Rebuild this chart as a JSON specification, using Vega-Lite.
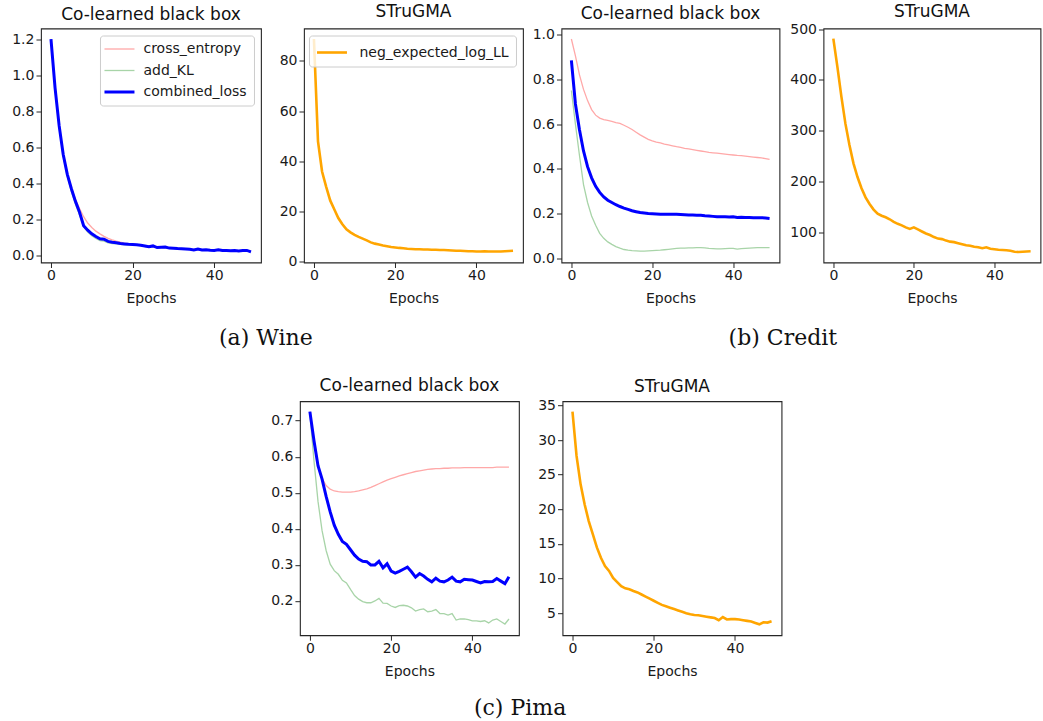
{
"$schema": "https://vega.github.io/schema/vega-lite/v6.json",
"padding": {"left": 10.5, "top": 1.5, "right": 0, "bottom": 0},
"background": "white",
"config": {
  "font": "DejaVu Sans",
  "view": {"stroke": "#262626", "strokeWidth": 1.1},
  "axis": {"domain": false, "grid": false, "tickColor": "#262626", "tickSize": 5, "tickWidth": 1, "labelFont": "DejaVu Sans", "labelFontSize": 14, "labelColor": "#1a1a1a", "titleFont": "DejaVu Sans", "titleFontSize": 14, "titleFontWeight": "normal", "titleColor": "#1a1a1a"},
  "axisX": {"labelPadding": 1, "titlePadding": 9.3},
  "axisY": {"labelPadding": 2},
  "title": {"font": "DejaVu Sans", "fontSize": 17, "fontWeight": "normal", "color": "#111111", "offset": 4.5},
  "legend": {"title": null, "orient": "top-right", "offset": 7, "symbolType": "M-1,0H2.333", "symbolSize": 324, "labelFont": "DejaVu Sans", "labelFontSize": 14, "labelColor": "#1a1a1a", "labelOffset": 23, "strokeColor": "#cccccc", "fillColor": "rgba(255,255,255,0.8)", "cornerRadius": 3, "padding": 6.5, "rowPadding": 7.5}
},
"datasets": {
"wine": [
{"epoch":0,"cross_entropy":1.2,"add_KL":1.2,"combined_loss":1.2,"neg_expected_log_LL":88.7},
{"epoch":1,"cross_entropy":0.93,"add_KL":0.92,"combined_loss":0.93,"neg_expected_log_LL":48},
{"epoch":2,"cross_entropy":0.72,"add_KL":0.71,"combined_loss":0.72,"neg_expected_log_LL":36},
{"epoch":3,"cross_entropy":0.565,"add_KL":0.55,"combined_loss":0.56,"neg_expected_log_LL":30},
{"epoch":4,"cross_entropy":0.455,"add_KL":0.44,"combined_loss":0.45,"neg_expected_log_LL":24.5},
{"epoch":5,"cross_entropy":0.375,"add_KL":0.355,"combined_loss":0.37,"neg_expected_log_LL":21},
{"epoch":6,"cross_entropy":0.31,"add_KL":0.285,"combined_loss":0.3,"neg_expected_log_LL":17.5},
{"epoch":7,"cross_entropy":0.26,"add_KL":0.225,"combined_loss":0.24,"neg_expected_log_LL":15},
{"epoch":8,"cross_entropy":0.215,"add_KL":0.16,"combined_loss":0.165,"neg_expected_log_LL":13},
{"epoch":9,"cross_entropy":0.18,"add_KL":0.13,"combined_loss":0.14,"neg_expected_log_LL":11.8},
{"epoch":10,"cross_entropy":0.155,"add_KL":0.11,"combined_loss":0.12,"neg_expected_log_LL":10.8},
{"epoch":11,"cross_entropy":0.135,"add_KL":0.094,"combined_loss":0.105,"neg_expected_log_LL":10},
{"epoch":12,"cross_entropy":0.12,"add_KL":0.083,"combined_loss":0.093,"neg_expected_log_LL":9.3},
{"epoch":13,"cross_entropy":0.106,"add_KL":0.08,"combined_loss":0.09,"neg_expected_log_LL":8.6},
{"epoch":14,"cross_entropy":0.095,"add_KL":0.07,"combined_loss":0.078,"neg_expected_log_LL":7.8},
{"epoch":15,"cross_entropy":0.087,"add_KL":0.066,"combined_loss":0.073,"neg_expected_log_LL":7.3},
{"epoch":16,"cross_entropy":0.08,"add_KL":0.064,"combined_loss":0.07,"neg_expected_log_LL":7},
{"epoch":17,"cross_entropy":0.074,"add_KL":0.062,"combined_loss":0.066,"neg_expected_log_LL":6.6},
{"epoch":18,"cross_entropy":0.069,"add_KL":0.06,"combined_loss":0.064,"neg_expected_log_LL":6.3},
{"epoch":19,"cross_entropy":0.065,"add_KL":0.059,"combined_loss":0.062,"neg_expected_log_LL":6},
{"epoch":20,"cross_entropy":0.062,"add_KL":0.058,"combined_loss":0.061,"neg_expected_log_LL":5.8},
{"epoch":21,"cross_entropy":0.06,"add_KL":0.057,"combined_loss":0.06,"neg_expected_log_LL":5.6},
{"epoch":22,"cross_entropy":0.057,"add_KL":0.055,"combined_loss":0.057,"neg_expected_log_LL":5.5},
{"epoch":23,"cross_entropy":0.054,"add_KL":0.051,"combined_loss":0.053,"neg_expected_log_LL":5.3},
{"epoch":24,"cross_entropy":0.05,"add_KL":0.047,"combined_loss":0.048,"neg_expected_log_LL":5.2},
{"epoch":25,"cross_entropy":0.05,"add_KL":0.05,"combined_loss":0.053,"neg_expected_log_LL":5.1},
{"epoch":26,"cross_entropy":0.046,"add_KL":0.043,"combined_loss":0.044,"neg_expected_log_LL":5.1},
{"epoch":27,"cross_entropy":0.045,"add_KL":0.044,"combined_loss":0.046,"neg_expected_log_LL":5},
{"epoch":28,"cross_entropy":0.044,"add_KL":0.045,"combined_loss":0.047,"neg_expected_log_LL":4.95},
{"epoch":29,"cross_entropy":0.042,"add_KL":0.04,"combined_loss":0.041,"neg_expected_log_LL":4.9},
{"epoch":30,"cross_entropy":0.04,"add_KL":0.039,"combined_loss":0.04,"neg_expected_log_LL":4.9},
{"epoch":31,"cross_entropy":0.039,"add_KL":0.037,"combined_loss":0.038,"neg_expected_log_LL":4.8},
{"epoch":32,"cross_entropy":0.038,"add_KL":0.036,"combined_loss":0.037,"neg_expected_log_LL":4.75},
{"epoch":33,"cross_entropy":0.037,"add_KL":0.035,"combined_loss":0.036,"neg_expected_log_LL":4.7},
{"epoch":34,"cross_entropy":0.035,"add_KL":0.033,"combined_loss":0.034,"neg_expected_log_LL":4.6},
{"epoch":35,"cross_entropy":0.034,"add_KL":0.031,"combined_loss":0.031,"neg_expected_log_LL":4.5},
{"epoch":36,"cross_entropy":0.033,"add_KL":0.034,"combined_loss":0.036,"neg_expected_log_LL":4.5},
{"epoch":37,"cross_entropy":0.032,"add_KL":0.03,"combined_loss":0.03,"neg_expected_log_LL":4.4},
{"epoch":38,"cross_entropy":0.031,"add_KL":0.031,"combined_loss":0.032,"neg_expected_log_LL":4.3},
{"epoch":39,"cross_entropy":0.03,"add_KL":0.029,"combined_loss":0.029,"neg_expected_log_LL":4.25},
{"epoch":40,"cross_entropy":0.029,"add_KL":0.028,"combined_loss":0.028,"neg_expected_log_LL":4.2},
{"epoch":41,"cross_entropy":0.029,"add_KL":0.03,"combined_loss":0.031,"neg_expected_log_LL":4.2},
{"epoch":42,"cross_entropy":0.028,"add_KL":0.027,"combined_loss":0.027,"neg_expected_log_LL":4.25},
{"epoch":43,"cross_entropy":0.027,"add_KL":0.027,"combined_loss":0.028,"neg_expected_log_LL":4.2},
{"epoch":44,"cross_entropy":0.027,"add_KL":0.026,"combined_loss":0.026,"neg_expected_log_LL":4.2},
{"epoch":45,"cross_entropy":0.026,"add_KL":0.026,"combined_loss":0.027,"neg_expected_log_LL":4.2},
{"epoch":46,"cross_entropy":0.026,"add_KL":0.025,"combined_loss":0.025,"neg_expected_log_LL":4.2},
{"epoch":47,"cross_entropy":0.025,"add_KL":0.026,"combined_loss":0.027,"neg_expected_log_LL":4.3},
{"epoch":48,"cross_entropy":0.025,"add_KL":0.026,"combined_loss":0.028,"neg_expected_log_LL":4.4},
{"epoch":49,"cross_entropy":0.024,"add_KL":0.021,"combined_loss":0.02,"neg_expected_log_LL":4.5}
],
"credit": [
{"epoch":0,"cross_entropy":0.98,"add_KL":0.75,"combined_loss":0.885,"neg_expected_log_LL":481},
{"epoch":1,"cross_entropy":0.905,"add_KL":0.6,"combined_loss":0.69,"neg_expected_log_LL":426},
{"epoch":2,"cross_entropy":0.82,"add_KL":0.46,"combined_loss":0.575,"neg_expected_log_LL":367},
{"epoch":3,"cross_entropy":0.755,"add_KL":0.33,"combined_loss":0.48,"neg_expected_log_LL":314},
{"epoch":4,"cross_entropy":0.705,"add_KL":0.25,"combined_loss":0.41,"neg_expected_log_LL":272},
{"epoch":5,"cross_entropy":0.665,"add_KL":0.19,"combined_loss":0.36,"neg_expected_log_LL":236},
{"epoch":6,"cross_entropy":0.64,"add_KL":0.148,"combined_loss":0.322,"neg_expected_log_LL":209},
{"epoch":7,"cross_entropy":0.627,"add_KL":0.112,"combined_loss":0.295,"neg_expected_log_LL":187},
{"epoch":8,"cross_entropy":0.62,"add_KL":0.09,"combined_loss":0.275,"neg_expected_log_LL":169},
{"epoch":9,"cross_entropy":0.617,"add_KL":0.074,"combined_loss":0.26,"neg_expected_log_LL":156},
{"epoch":10,"cross_entropy":0.612,"add_KL":0.063,"combined_loss":0.25,"neg_expected_log_LL":145},
{"epoch":11,"cross_entropy":0.607,"add_KL":0.053,"combined_loss":0.24,"neg_expected_log_LL":137},
{"epoch":12,"cross_entropy":0.603,"add_KL":0.046,"combined_loss":0.232,"neg_expected_log_LL":133},
{"epoch":13,"cross_entropy":0.595,"add_KL":0.04,"combined_loss":0.225,"neg_expected_log_LL":130},
{"epoch":14,"cross_entropy":0.586,"add_KL":0.037,"combined_loss":0.219,"neg_expected_log_LL":126},
{"epoch":15,"cross_entropy":0.576,"add_KL":0.035,"combined_loss":0.213,"neg_expected_log_LL":121},
{"epoch":16,"cross_entropy":0.564,"add_KL":0.034,"combined_loss":0.209,"neg_expected_log_LL":117},
{"epoch":17,"cross_entropy":0.552,"add_KL":0.033,"combined_loss":0.205,"neg_expected_log_LL":114},
{"epoch":18,"cross_entropy":0.542,"add_KL":0.033,"combined_loss":0.203,"neg_expected_log_LL":110},
{"epoch":19,"cross_entropy":0.532,"add_KL":0.034,"combined_loss":0.201,"neg_expected_log_LL":107},
{"epoch":20,"cross_entropy":0.525,"add_KL":0.035,"combined_loss":0.2,"neg_expected_log_LL":110},
{"epoch":21,"cross_entropy":0.52,"add_KL":0.036,"combined_loss":0.199,"neg_expected_log_LL":106},
{"epoch":22,"cross_entropy":0.516,"add_KL":0.037,"combined_loss":0.198,"neg_expected_log_LL":102},
{"epoch":23,"cross_entropy":0.511,"add_KL":0.039,"combined_loss":0.197,"neg_expected_log_LL":98},
{"epoch":24,"cross_entropy":0.507,"add_KL":0.041,"combined_loss":0.198,"neg_expected_log_LL":95},
{"epoch":25,"cross_entropy":0.503,"add_KL":0.043,"combined_loss":0.197,"neg_expected_log_LL":91},
{"epoch":26,"cross_entropy":0.499,"add_KL":0.045,"combined_loss":0.197,"neg_expected_log_LL":88},
{"epoch":27,"cross_entropy":0.496,"add_KL":0.046,"combined_loss":0.196,"neg_expected_log_LL":87},
{"epoch":28,"cross_entropy":0.492,"add_KL":0.046,"combined_loss":0.195,"neg_expected_log_LL":84},
{"epoch":29,"cross_entropy":0.489,"add_KL":0.047,"combined_loss":0.194,"neg_expected_log_LL":82},
{"epoch":30,"cross_entropy":0.486,"add_KL":0.047,"combined_loss":0.194,"neg_expected_log_LL":81},
{"epoch":31,"cross_entropy":0.483,"add_KL":0.048,"combined_loss":0.193,"neg_expected_log_LL":79},
{"epoch":32,"cross_entropy":0.48,"add_KL":0.048,"combined_loss":0.193,"neg_expected_log_LL":77},
{"epoch":33,"cross_entropy":0.477,"add_KL":0.047,"combined_loss":0.191,"neg_expected_log_LL":75},
{"epoch":34,"cross_entropy":0.474,"add_KL":0.045,"combined_loss":0.19,"neg_expected_log_LL":74},
{"epoch":35,"cross_entropy":0.472,"add_KL":0.044,"combined_loss":0.188,"neg_expected_log_LL":72},
{"epoch":36,"cross_entropy":0.47,"add_KL":0.043,"combined_loss":0.186,"neg_expected_log_LL":71},
{"epoch":37,"cross_entropy":0.468,"add_KL":0.043,"combined_loss":0.186,"neg_expected_log_LL":69},
{"epoch":38,"cross_entropy":0.466,"add_KL":0.044,"combined_loss":0.186,"neg_expected_log_LL":71},
{"epoch":39,"cross_entropy":0.464,"add_KL":0.045,"combined_loss":0.185,"neg_expected_log_LL":68},
{"epoch":40,"cross_entropy":0.462,"add_KL":0.045,"combined_loss":0.186,"neg_expected_log_LL":67},
{"epoch":41,"cross_entropy":0.46,"add_KL":0.042,"combined_loss":0.183,"neg_expected_log_LL":66},
{"epoch":42,"cross_entropy":0.459,"add_KL":0.044,"combined_loss":0.184,"neg_expected_log_LL":65.5},
{"epoch":43,"cross_entropy":0.457,"add_KL":0.045,"combined_loss":0.183,"neg_expected_log_LL":65},
{"epoch":44,"cross_entropy":0.455,"add_KL":0.046,"combined_loss":0.183,"neg_expected_log_LL":64},
{"epoch":45,"cross_entropy":0.453,"add_KL":0.047,"combined_loss":0.182,"neg_expected_log_LL":62},
{"epoch":46,"cross_entropy":0.451,"add_KL":0.048,"combined_loss":0.182,"neg_expected_log_LL":61.5},
{"epoch":47,"cross_entropy":0.449,"add_KL":0.048,"combined_loss":0.182,"neg_expected_log_LL":62},
{"epoch":48,"cross_entropy":0.446,"add_KL":0.048,"combined_loss":0.181,"neg_expected_log_LL":62.5},
{"epoch":49,"cross_entropy":0.443,"add_KL":0.048,"combined_loss":0.179,"neg_expected_log_LL":63}
],
"pima": [
{"epoch":0,"cross_entropy":0.725,"add_KL":0.72,"combined_loss":0.725,"neg_expected_log_LL":34.1},
{"epoch":1,"cross_entropy":0.645,"add_KL":0.59,"combined_loss":0.645,"neg_expected_log_LL":27.7},
{"epoch":2,"cross_entropy":0.578,"add_KL":0.476,"combined_loss":0.575,"neg_expected_log_LL":23.6},
{"epoch":3,"cross_entropy":0.54,"add_KL":0.395,"combined_loss":0.538,"neg_expected_log_LL":20.7},
{"epoch":4,"cross_entropy":0.52,"add_KL":0.34,"combined_loss":0.49,"neg_expected_log_LL":18.3},
{"epoch":5,"cross_entropy":0.51,"add_KL":0.302,"combined_loss":0.447,"neg_expected_log_LL":16.4},
{"epoch":6,"cross_entropy":0.505,"add_KL":0.284,"combined_loss":0.41,"neg_expected_log_LL":14.5},
{"epoch":7,"cross_entropy":0.503,"add_KL":0.274,"combined_loss":0.385,"neg_expected_log_LL":13},
{"epoch":8,"cross_entropy":0.502,"add_KL":0.257,"combined_loss":0.365,"neg_expected_log_LL":11.8},
{"epoch":9,"cross_entropy":0.502,"add_KL":0.25,"combined_loss":0.357,"neg_expected_log_LL":11.1},
{"epoch":10,"cross_entropy":0.502,"add_KL":0.232,"combined_loss":0.342,"neg_expected_log_LL":10.1},
{"epoch":11,"cross_entropy":0.503,"add_KL":0.215,"combined_loss":0.327,"neg_expected_log_LL":9.5},
{"epoch":12,"cross_entropy":0.505,"add_KL":0.205,"combined_loss":0.316,"neg_expected_log_LL":8.9},
{"epoch":13,"cross_entropy":0.508,"add_KL":0.198,"combined_loss":0.31,"neg_expected_log_LL":8.6},
{"epoch":14,"cross_entropy":0.511,"add_KL":0.195,"combined_loss":0.309,"neg_expected_log_LL":8.45},
{"epoch":15,"cross_entropy":0.515,"add_KL":0.195,"combined_loss":0.3,"neg_expected_log_LL":8.2},
{"epoch":16,"cross_entropy":0.52,"add_KL":0.2,"combined_loss":0.3,"neg_expected_log_LL":8},
{"epoch":17,"cross_entropy":0.525,"add_KL":0.207,"combined_loss":0.31,"neg_expected_log_LL":7.7},
{"epoch":18,"cross_entropy":0.53,"add_KL":0.194,"combined_loss":0.292,"neg_expected_log_LL":7.4},
{"epoch":19,"cross_entropy":0.535,"add_KL":0.193,"combined_loss":0.303,"neg_expected_log_LL":7.1},
{"epoch":20,"cross_entropy":0.539,"add_KL":0.186,"combined_loss":0.283,"neg_expected_log_LL":6.8},
{"epoch":21,"cross_entropy":0.543,"add_KL":0.182,"combined_loss":0.277,"neg_expected_log_LL":6.5},
{"epoch":22,"cross_entropy":0.547,"add_KL":0.187,"combined_loss":0.282,"neg_expected_log_LL":6.2},
{"epoch":23,"cross_entropy":0.55,"add_KL":0.188,"combined_loss":0.288,"neg_expected_log_LL":6},
{"epoch":24,"cross_entropy":0.553,"add_KL":0.186,"combined_loss":0.294,"neg_expected_log_LL":5.8},
{"epoch":25,"cross_entropy":0.556,"add_KL":0.181,"combined_loss":0.281,"neg_expected_log_LL":5.6},
{"epoch":26,"cross_entropy":0.559,"add_KL":0.172,"combined_loss":0.266,"neg_expected_log_LL":5.4},
{"epoch":27,"cross_entropy":0.561,"add_KL":0.176,"combined_loss":0.276,"neg_expected_log_LL":5.2},
{"epoch":28,"cross_entropy":0.563,"add_KL":0.178,"combined_loss":0.269,"neg_expected_log_LL":5},
{"epoch":29,"cross_entropy":0.565,"add_KL":0.17,"combined_loss":0.26,"neg_expected_log_LL":4.85},
{"epoch":30,"cross_entropy":0.566,"add_KL":0.172,"combined_loss":0.253,"neg_expected_log_LL":4.75},
{"epoch":31,"cross_entropy":0.567,"add_KL":0.176,"combined_loss":0.263,"neg_expected_log_LL":4.7},
{"epoch":32,"cross_entropy":0.567,"add_KL":0.165,"combined_loss":0.255,"neg_expected_log_LL":4.6},
{"epoch":33,"cross_entropy":0.568,"add_KL":0.165,"combined_loss":0.253,"neg_expected_log_LL":4.5},
{"epoch":34,"cross_entropy":0.568,"add_KL":0.161,"combined_loss":0.258,"neg_expected_log_LL":4.4},
{"epoch":35,"cross_entropy":0.569,"add_KL":0.165,"combined_loss":0.266,"neg_expected_log_LL":4.3},
{"epoch":36,"cross_entropy":0.569,"add_KL":0.147,"combined_loss":0.255,"neg_expected_log_LL":4},
{"epoch":37,"cross_entropy":0.569,"add_KL":0.15,"combined_loss":0.253,"neg_expected_log_LL":4.45},
{"epoch":38,"cross_entropy":0.57,"add_KL":0.15,"combined_loss":0.26,"neg_expected_log_LL":4.1},
{"epoch":39,"cross_entropy":0.57,"add_KL":0.148,"combined_loss":0.259,"neg_expected_log_LL":4.15},
{"epoch":40,"cross_entropy":0.57,"add_KL":0.145,"combined_loss":0.258,"neg_expected_log_LL":4.15},
{"epoch":41,"cross_entropy":0.57,"add_KL":0.145,"combined_loss":0.254,"neg_expected_log_LL":4.1},
{"epoch":42,"cross_entropy":0.57,"add_KL":0.143,"combined_loss":0.25,"neg_expected_log_LL":4},
{"epoch":43,"cross_entropy":0.57,"add_KL":0.145,"combined_loss":0.254,"neg_expected_log_LL":3.9},
{"epoch":44,"cross_entropy":0.57,"add_KL":0.139,"combined_loss":0.253,"neg_expected_log_LL":3.8},
{"epoch":45,"cross_entropy":0.57,"add_KL":0.147,"combined_loss":0.254,"neg_expected_log_LL":3.6},
{"epoch":46,"cross_entropy":0.571,"add_KL":0.15,"combined_loss":0.262,"neg_expected_log_LL":3.4},
{"epoch":47,"cross_entropy":0.571,"add_KL":0.143,"combined_loss":0.255,"neg_expected_log_LL":3.7},
{"epoch":48,"cross_entropy":0.571,"add_KL":0.136,"combined_loss":0.248,"neg_expected_log_LL":3.65},
{"epoch":49,"cross_entropy":0.571,"add_KL":0.15,"combined_loss":0.267,"neg_expected_log_LL":3.85}
]
},
"vconcat": [
{
 "hconcat": [
  {
   "title": {"text": "(a) Wine", "orient": "bottom", "anchor": "middle", "font": "DejaVu Serif", "fontSize": 22, "fontWeight": "normal", "color": "#111111", "offset": 21.5, "dx": -1.5},
   "spacing": 16,
   "resolve": {"scale": {"color": "independent"}},
   "hconcat": [
    {
     "width": 220, "height": 234,
     "title": {"text": "Co-learned black box", "offset": 4.5},
     "data": {"name": "wine"},
     "transform": [{"fold": ["cross_entropy", "add_KL", "combined_loss"], "as": ["series", "value"]}],
     "encoding": {
      "x": {"field": "epoch", "type": "quantitative", "scale": {"domain": [-2.45, 51.45], "nice": false, "zero": false}, "axis": {"values": [0, 20, 40], "title": "Epochs", "format": "d"}},
      "y": {"field": "value", "type": "quantitative", "scale": {"domain": [-0.039, 1.259], "nice": false, "zero": false}, "axis": {"values": [0, 0.2, 0.4, 0.6, 0.8, 1.0, 1.2], "format": ".1f", "title": null}},
      "color": {"field": "series", "type": "nominal", "scale": {"domain": ["cross_entropy", "add_KL", "combined_loss"], "range": ["#ffa8a8", "#a8d4a8", "#0000ff"]}, "legend": {"orient": "top-right", "title": null, "encode": {"symbols": {"update": {"strokeWidth": {"signal": "datum.value === 'combined_loss' ? 3 : 1.3"}}}}}}
     },
     "layer": [
      {"transform": [{"filter": "datum.series !== 'combined_loss'"}], "mark": {"type": "line", "strokeWidth": 1.3}},
      {"transform": [{"filter": "datum.series === 'combined_loss'"}], "mark": {"type": "line", "strokeWidth": 3}}
     ]
    },
    {
     "width": 219, "height": 234,
     "title": {"text": "STruGMA", "offset": 7.5},
     "data": {"name": "wine"},
     "transform": [{"fold": ["neg_expected_log_LL"], "as": ["series", "value"]}],
     "mark": {"type": "line", "strokeWidth": 2.6},
     "encoding": {
      "x": {"field": "epoch", "type": "quantitative", "scale": {"domain": [-2.45, 51.45], "nice": false, "zero": false}, "axis": {"values": [0, 20, 40], "title": "Epochs", "format": "d"}},
      "y": {"field": "value", "type": "quantitative", "scale": {"domain": [-0.2, 92.9], "nice": false, "zero": false}, "axis": {"values": [0, 20, 40, 60, 80], "format": "d", "title": null}},
      "color": {"field": "series", "type": "nominal", "scale": {"domain": ["neg_expected_log_LL"], "range": ["#ffa500"]}, "legend": {"orient": "top-right", "title": null, "encode": {"symbols": {"update": {"strokeWidth": {"value": 2.6}}}}}}
     }
    }
   ]
  },
  {
   "title": {"text": "(b) Credit", "orient": "bottom", "anchor": "middle", "font": "DejaVu Serif", "fontSize": 22, "fontWeight": "normal", "color": "#111111", "offset": 21.5, "dx": -3.5},
   "spacing": 8,
   "resolve": {"scale": {"color": "independent"}},
   "hconcat": [
    {
     "width": 218, "height": 234,
     "title": {"text": "Co-learned black box", "offset": 4.5},
     "data": {"name": "credit"},
     "transform": [{"fold": ["cross_entropy", "add_KL", "combined_loss"], "as": ["series", "value"]}],
     "encoding": {
      "x": {"field": "epoch", "type": "quantitative", "scale": {"domain": [-2.45, 51.45], "nice": false, "zero": false}, "axis": {"values": [0, 20, 40], "title": "Epochs", "format": "d"}},
      "y": {"field": "value", "type": "quantitative", "scale": {"domain": [-0.018, 1.027], "nice": false, "zero": false}, "axis": {"values": [0, 0.2, 0.4, 0.6, 0.8, 1.0], "format": ".1f", "title": null}},
      "color": {"field": "series", "type": "nominal", "scale": {"domain": ["cross_entropy", "add_KL", "combined_loss"], "range": ["#ffa8a8", "#a8d4a8", "#0000ff"]}, "legend": null}
     },
     "layer": [
      {"transform": [{"filter": "datum.series !== 'combined_loss'"}], "mark": {"type": "line", "strokeWidth": 1.3}},
      {"transform": [{"filter": "datum.series === 'combined_loss'"}], "mark": {"type": "line", "strokeWidth": 3}}
     ]
    },
    {
     "width": 217, "height": 234,
     "title": {"text": "STruGMA", "offset": 1.5},
     "data": {"name": "credit"},
     "mark": {"type": "line", "color": "#ffa500", "strokeWidth": 2.6},
     "encoding": {
      "x": {"field": "epoch", "type": "quantitative", "scale": {"domain": [-2.45, 51.45], "nice": false, "zero": false}, "axis": {"values": [0, 20, 40], "title": "Epochs", "format": "d"}},
      "y": {"field": "neg_expected_log_LL", "type": "quantitative", "scale": {"domain": [41, 501], "nice": false, "zero": false}, "axis": {"values": [100, 200, 300, 400, 500], "format": "d", "title": null}}
     }
    }
   ]
  }
 ],
 "spacing": 7.5,
 "resolve": {"scale": {"color": "independent"}}
},
{
 "title": {"text": "(c) Pima", "orient": "bottom", "anchor": "middle", "font": "DejaVu Serif", "fontSize": 22, "fontWeight": "normal", "color": "#111111", "offset": 19, "dx": -6},
 "spacing": 16.6,
 "resolve": {"scale": {"color": "independent"}},
 "hconcat": [
  {
   "width": 219, "height": 234,
   "title": {"text": "Co-learned black box", "offset": 6},
   "data": {"name": "pima"},
   "transform": [{"fold": ["cross_entropy", "add_KL", "combined_loss"], "as": ["series", "value"]}],
   "encoding": {
    "x": {"field": "epoch", "type": "quantitative", "scale": {"domain": [-2.45, 51.45], "nice": false, "zero": false}, "axis": {"values": [0, 20, 40], "title": "Epochs", "format": "d"}},
    "y": {"field": "value", "type": "quantitative", "scale": {"domain": [0.105, 0.754], "nice": false, "zero": false}, "axis": {"values": [0.2, 0.3, 0.4, 0.5, 0.6, 0.7], "format": ".1f", "title": null}},
    "color": {"field": "series", "type": "nominal", "scale": {"domain": ["cross_entropy", "add_KL", "combined_loss"], "range": ["#ffa8a8", "#a8d4a8", "#0000ff"]}, "legend": null}
   },
   "layer": [
    {"transform": [{"filter": "datum.series !== 'combined_loss'"}], "mark": {"type": "line", "strokeWidth": 1.3}},
    {"transform": [{"filter": "datum.series === 'combined_loss'"}], "mark": {"type": "line", "strokeWidth": 3}}
   ]
  },
  {
   "width": 219, "height": 234,
   "title": {"text": "STruGMA", "offset": 2},
   "data": {"name": "pima"},
   "mark": {"type": "line", "color": "#ffa500", "strokeWidth": 2.6},
   "encoding": {
    "x": {"field": "epoch", "type": "quantitative", "scale": {"domain": [-2.45, 51.45], "nice": false, "zero": false}, "axis": {"values": [0, 20, 40], "title": "Epochs", "format": "d"}},
    "y": {"field": "neg_expected_log_LL", "type": "quantitative", "scale": {"domain": [1.83, 35.6], "nice": false, "zero": false}, "axis": {"values": [5, 10, 15, 20, 25, 30, 35], "format": "d", "title": null}}
   }
  }
 ]
}
],
"spacing": 26.7,
"center": true,
"resolve": {"scale": {"color": "independent"}}
}
